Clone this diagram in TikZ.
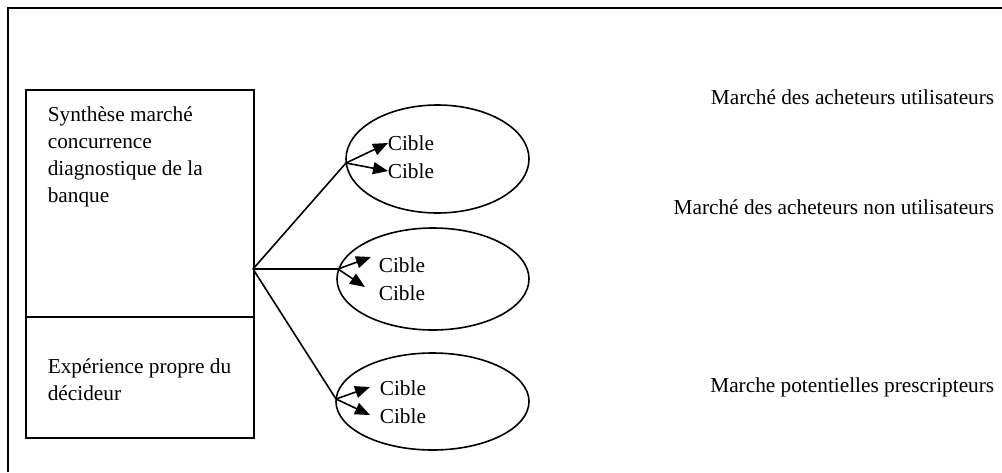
\documentclass[tikz,border=0pt]{standalone}
\usepackage{fontspec}
\setmainfont{Liberation Serif}
\usetikzlibrary{arrows.meta,shapes.geometric}
\begin{document}
\begin{tikzpicture}[x=1pt,y=-1pt,line width=1.6pt,
  txt/.style={font=\fontsize{21.3}{27}\selectfont, inner sep=0pt},
  ell/.style={draw, ellipse, inner sep=0pt},
  boxpart/.style={draw, rectangle, inner sep=0pt, minimum width=228pt, anchor=north west},
  arr/.style={-{Triangle[length=15pt,width=12pt]}}]
\useasboundingbox (0,0) rectangle (1002,472);
% outer frame (only top and left visible)
\draw[line width=1.8pt] (8,472) -- (8,8) -- (1002,8);
% left box
\node[boxpart, minimum height=227pt] (b1) at (25,89) {};
\node[boxpart, minimum height=121pt] (b2) at (25,316) {};
\node[txt, anchor=base west, align=left] (t1) at (47,202) {Synthèse marché\\concurrence\\diagnostique de la\\banque};
\node[txt, anchor=base west, align=left] (t2) at (47,400) {Expérience propre du\\décideur};
% ellipses
\node[ell, minimum width=183pt, minimum height=108pt] (e1) at (437.5,159) {};
\node[ell, minimum width=192pt, minimum height=102pt] (e2) at (433,279) {};
\node[ell, minimum width=193pt, minimum height=97pt] (e3) at (432.5,401.5) {};
% cible texts
\node[txt, anchor=base west] (c11) at (387,150) {Cible};
\node[txt, anchor=base west] (c12) at (387,178) {Cible};
\node[txt, anchor=base west] (c21) at (378,272) {Cible};
\node[txt, anchor=base west] (c22) at (378,300) {Cible};
\node[txt, anchor=base west] (c31) at (379,395) {Cible};
\node[txt, anchor=base west] (c32) at (379,423) {Cible};
% right labels
\node[txt, anchor=base east] (m1) at (995,104) {Marché des acheteurs utilisateurs};
\node[txt, anchor=base east] (m2) at (995,214) {Marché des acheteurs non utilisateurs};
\node[txt, anchor=base east] (m3) at (995,392) {Marche potentielles prescripteurs};
% connectors
\coordinate (f) at (253,269);
\coordinate (p1) at (346,163);
\coordinate (p2) at (338,269);
\coordinate (p3) at (336,399);
\coordinate (a11) at (388,143);
\coordinate (a12) at (388,171);
\coordinate (a21) at (371,257);
\coordinate (a22) at (365,287);
\coordinate (a31) at (370,387);
\coordinate (a32) at (370,415);
\draw (f) -- (p1);
\draw (f) -- (p2);
\draw (f) -- (p3);
\draw[arr] (p1) -- (a11);
\draw[arr] (p1) -- (a12);
\draw[arr] (p2) -- (a21);
\draw[arr] (p2) -- (a22);
\draw[arr] (p3) -- (a31);
\draw[arr] (p3) -- (a32);
\end{tikzpicture}
\end{document}
